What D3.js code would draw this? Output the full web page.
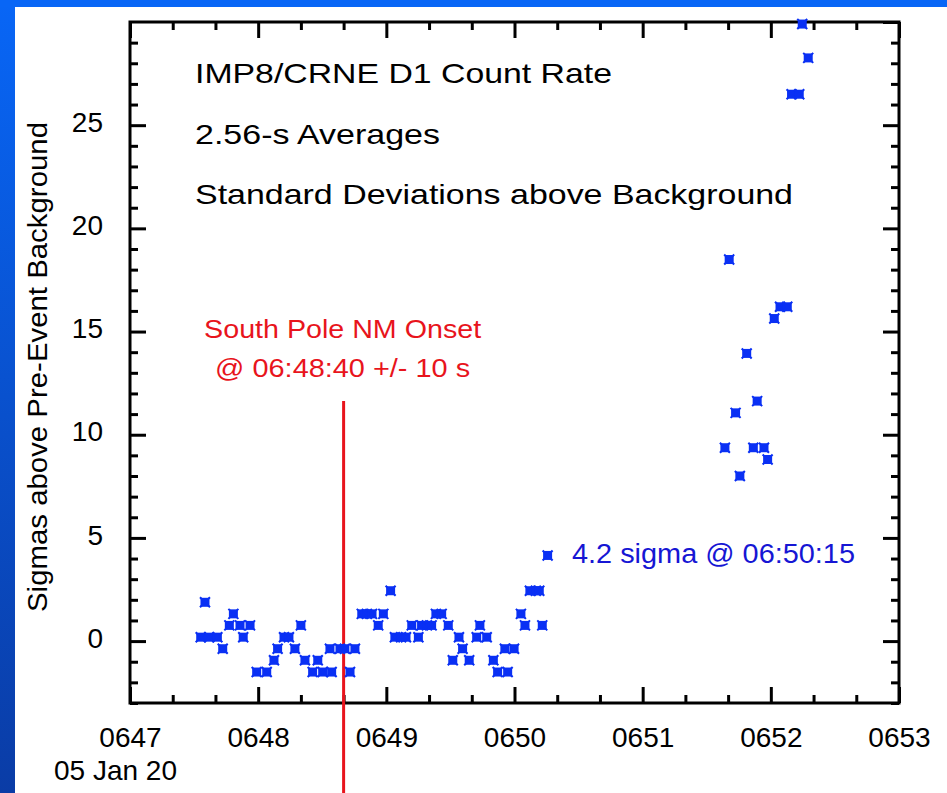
<!DOCTYPE html>
<html lang="en">
<head>
<meta charset="UTF-8">
<title>IMP8/CRNE D1 Count Rate</title>
<script src="https://d3js.org/d3.v7.min.js"></script>
<style>
  body { margin: 0; background: #fff; }
  svg { display: block; font-family: "Liberation Sans", Arial, sans-serif; }
</style>
</head>
<body>
<div id="chart"></div>
<script>
// seconds after 06:47:00 UT, 05 Jan 2005
var times = [33.1, 35.1, 37.1, 40.9, 43.4, 46.5, 48.4, 51.5, 53.0, 56.2,
  59.3, 64.0, 67.4, 69.1, 72.1, 74.4, 77.2, 80.0, 81.9, 85.5,
  87.9, 90.2, 93.6, 94.4, 98.3, 100.6, 103.0, 105.3, 108.5, 110.9,
  113.3, 116.2, 118.6, 122.0, 124.0, 126.9, 129.2, 131.9, 135.0, 136.5,
  139.0, 141.2, 143.2, 145.9, 149.0, 151.1, 154.0, 155.7, 158.8, 162.3,
  163.8, 167.0, 170.1, 172.1, 175.5, 176.8, 179.8, 183.0, 184.9, 187.2,
  190.0, 191.6, 193.0, 195.5,
  278.5, 280.5, 283.5, 285.5, 288.7, 291.8, 293.6, 296.8, 298.5, 301.6,
  304.3, 307.7, 309.7, 313.3, 314.7, 317.5]
// standard deviations above pre-event background
var sigmas = [0.19, 1.88, 0.19, 0.19, -0.37, 0.76, 1.32, 0.76, 0.19, 0.76,
  -1.5, -1.5, -0.93, -0.37, 0.19, 0.19, -0.37, 0.76, -0.93, -1.5,
  -0.93, -1.5, -0.37, -1.5, -0.37, -0.37, -1.5, -0.37, 1.32, 1.32,
  1.32, 0.76, 1.32, 2.44, 0.19, 0.19, 0.19, 0.76, 0.19, 0.76,
  0.76, 0.76, 1.32, 1.32, 0.76, -0.93, 0.19, -0.37, -0.93, 0.19,
  0.76, 0.19, -0.93, -1.5, -0.37, -1.5, -0.37, 1.32, 0.76, 2.44,
  2.44, 2.44, 0.76, 4.15,
  9.37, 18.49, 11.06, 8.0, 13.94, 9.37, 11.63, 9.37, 8.8, 15.63,
  16.2, 16.2, 26.5, 26.5, 29.9, 28.26]

var xTickLabels = ["0647", "0648", "0649", "0650", "0651", "0652", "0653"]
var yTickValues = [0, 5, 10, 15, 20, 25]
var titleLines = ["IMP8/CRNE D1 Count Rate", "2.56-s Averages", "Standard Deviations above Background"]
var onsetTime = 100 // 06:48:40
var onsetLines = ["South Pole NM Onset", "@ 06:48:40 +/- 10 s"]
var noteText = "4.2 sigma @ 06:50:15"

var width = 947, height = 793

var svg = d3.select("#chart").append("svg")
  .attr("width", width)
  .attr("height", height)

// blue slide frame
var grad = svg.append("defs").append("linearGradient")
  .attr("id", "frame").attr("x1", 0).attr("y1", 0).attr("x2", 0).attr("y2", 1)
grad.append("stop").attr("offset", "0%").attr("stop-color", "#0866f6")
grad.append("stop").attr("offset", "100%").attr("stop-color", "#0a3ca6")
svg.append("rect").attr("width", width).attr("height", height).attr("fill", "url(#frame)")
svg.append("rect").attr("x", 0).attr("y", 0).attr("width", width).attr("height", 7).attr("fill", "#0866f6")
svg.append("rect").attr("x", 15).attr("y", 7).attr("width", width - 15).attr("height", height - 7).attr("fill", "#fff")

var x = d3.scaleLinear().domain([0, 360]).range([130, 899])
var y = d3.scaleLinear().domain([-3, 30]).range([703, 22])

var xMajor = d3.range(0, 361, 60)
var xMinor = d3.range(0, 361, 20).filter(v => v % 60 != 0)
var yMajor = d3.range(-0, 31, 5)
var yMinor = d3.range(-3, 31, 1).filter(v => v % 5 != 0)

function styleAxis(g) {
  g.select(".domain").remove()
  g.selectAll("line").attr("stroke", "#000").attr("stroke-width", 3)
  g.selectAll("text").attr("font-size", 28).attr("fill", "#000").attr("font-family", "Liberation Sans, Arial, sans-serif")
}

// bottom
svg.append("g").attr("transform", `translate(0,${y(-3)})`)
  .call(d3.axisBottom(x).tickValues(xMinor).tickSize(-8).tickFormat(""))
  .call(styleAxis)
svg.append("g").attr("transform", `translate(0,${y(-3)})`)
  .call(d3.axisBottom(x).tickValues(xMajor).tickSize(-16).tickPadding(24)
    .tickFormat((d, i) => xTickLabels[i]))
  .call(styleAxis)
// top
svg.append("g").attr("transform", `translate(0,${y(30)})`)
  .call(d3.axisTop(x).tickValues(xMinor).tickSize(-8).tickFormat(""))
  .call(styleAxis)
svg.append("g").attr("transform", `translate(0,${y(30)})`)
  .call(d3.axisTop(x).tickValues(xMajor).tickSize(-16).tickFormat(""))
  .call(styleAxis)
// left
svg.append("g").attr("transform", `translate(${x(0)},0)`)
  .call(d3.axisLeft(y).tickValues(yMinor).tickSize(-8).tickFormat(""))
  .call(styleAxis)
svg.append("g").attr("transform", `translate(${x(0)},0)`)
  .call(d3.axisLeft(y).tickValues(yTickValues).tickSize(-16).tickPadding(27))
  .call(styleAxis)
  .selectAll("text").attr("dy", "0.22em")
// right
svg.append("g").attr("transform", `translate(${x(360)},0)`)
  .call(d3.axisRight(y).tickValues(yMinor).tickSize(-8).tickFormat(""))
  .call(styleAxis)
svg.append("g").attr("transform", `translate(${x(360)},0)`)
  .call(d3.axisRight(y).tickValues(yMajor).tickSize(-16).tickFormat(""))
  .call(styleAxis)

// frame box
svg.append("rect")
  .attr("x", x(0)).attr("y", y(30))
  .attr("width", x(360) - x(0)).attr("height", y(-3) - y(30))
  .attr("fill", "none").attr("stroke", "#000").attr("stroke-width", 3)

svg.append("text")
  .attr("x", 54).attr("y", 780)
  .attr("font-size", 28)
  .text("05 Jan 20")

svg.append("text")
  .attr("transform", "translate(47,367) rotate(-90)")
  .attr("text-anchor", "middle")
  .attr("font-size", 27)
  .attr("textLength", 490).attr("lengthAdjust", "spacingAndGlyphs")
  .text("Sigmas above Pre-Event Background")

// title block
var titleWidths = [417, 245, 598]
svg.selectAll(".title").data(titleLines).join("text")
  .attr("class", "title")
  .attr("x", 195)
  .attr("y", (d, i) => 83 + i * 60.5)
  .attr("font-size", 28)
  .attr("textLength", (d, i) => titleWidths[i]).attr("lengthAdjust", "spacingAndGlyphs")
  .text(d => d)

// onset marker
var red = "#e8141c"
svg.append("line")
  .attr("x1", x(onsetTime)).attr("x2", x(onsetTime))
  .attr("y1", 401).attr("y2", height)
  .attr("stroke", red).attr("stroke-width", 3)
var onsetWidths = [277, 255]
svg.selectAll(".onset").data(onsetLines).join("text")
  .attr("class", "onset")
  .attr("x", x(onsetTime) - 1)
  .attr("y", (d, i) => 338 + i * 39)
  .attr("text-anchor", "middle")
  .attr("font-size", 26)
  .attr("fill", red)
  .attr("textLength", (d, i) => onsetWidths[i]).attr("lengthAdjust", "spacingAndGlyphs")
  .text(d => d)

// data points
var blue = "#0a30f4"
var pts = svg.append("g").selectAll("g")
  .data(times.map((t, i) => [t, sigmas[i]]))
  .join("g")
  .attr("transform", d => `translate(${x(d[0])},${y(d[1])})`)
pts.append("rect")
  .attr("x", -4.5).attr("y", -4.5).attr("width", 9).attr("height", 9)
  .attr("fill", blue)
pts.append("path")
  .attr("d", "M-5,-5L5,5M-5,5L5,-5")
  .attr("stroke", blue).attr("stroke-width", 2)

svg.append("text")
  .attr("x", 572).attr("y", 563)
  .attr("font-size", 27)
  .attr("fill", "#1616d4")
  .attr("textLength", 283).attr("lengthAdjust", "spacingAndGlyphs")
  .text(noteText)
</script>
</body>
</html>
